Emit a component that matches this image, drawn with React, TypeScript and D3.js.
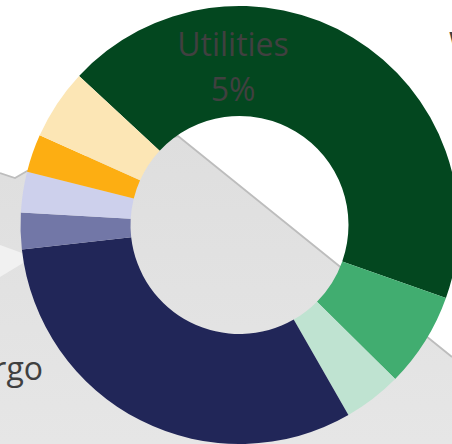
import React from "react";
import * as d3 from "d3";

const categories = ["Segment A", "Segment B", "Segment C", "Cargo", "Segment E", "Segment F", "Segment G", "Utilities"];
const values = [43.5, 7.0, 4.3, 31.5, 2.7, 3.0, 2.8, 5.2];
const colors = ["#03471F", "#41AD70", "#BFE3D1", "#212658", "#7277A7", "#CDD0EC", "#FDAE12", "#FCE6B5"];
const labelLines = ["Utilities", "5%"];
const edgeLabel = "W";

const W = 452;
const H = 444;

export default function App() {
  const cx = 239.5;
  const cy = 225;
  const outerR = 219;
  const innerR = 109;
  const start = (-47.1 * Math.PI) / 180;

  const pie = d3
    .pie<number>()
    .sort(null)
    .startAngle(start)
    .endAngle(start + 2 * Math.PI);
  const arcs = pie(values);
  const arcGen = d3.arc<d3.PieArcDatum<number>>().innerRadius(innerR).outerRadius(outerR);

  const line = d3.line();
  const grayPoly = line([
    [0, 173], [15, 178], [27, 171], [178, 136], [452, 357], [452, 444], [0, 444],
  ]) + "Z";
  const edge = line([[0, 173], [15, 178], [27, 171], [178, 136], [452, 357]]);
  const lightWedge = line([[0, 245], [33, 257], [0, 277]]) + "Z";

  return (
    <svg
      width={W}
      height={H}
      style={{ position: "absolute", left: 0, top: 0, display: "block" }}
      fontFamily="'Open Sans', sans-serif"
    >
      <defs>
        <linearGradient id="bgGrad" x1="0" y1="0" x2="0" y2="1">
          <stop offset="0" stopColor="#dedede" />
          <stop offset="1" stopColor="#e6e6e6" />
        </linearGradient>
      </defs>
      <rect width={W} height={H} fill="#ffffff" />
      <path d={grayPoly} fill="url(#bgGrad)" />
      <path d={edge!} fill="none" stroke="#bdbdbd" strokeWidth={1.8} />
      <path d={lightWedge} fill="#f1f1f1" />
      <g transform={`translate(${cx},${cy})`}>
        {arcs.map((a, i) => (
          <path key={categories[i]} d={arcGen(a)!} fill={colors[i]} />
        ))}
      </g>
      <text x={233} y={56} textAnchor="middle" fontSize={32} fill="#404040">
        {labelLines[0]}
      </text>
      <text x={233} y={101} textAnchor="middle" fontSize={32} fill="#404040">
        {labelLines[1]}
      </text>
      <text x={43} y={380} textAnchor="end" fontSize={32} fill="#404040">
        {categories[3]}
      </text>
      <text x={449} y={56} fontSize={32} fill="#404040">
        {edgeLabel}
      </text>
    </svg>
  );
}
